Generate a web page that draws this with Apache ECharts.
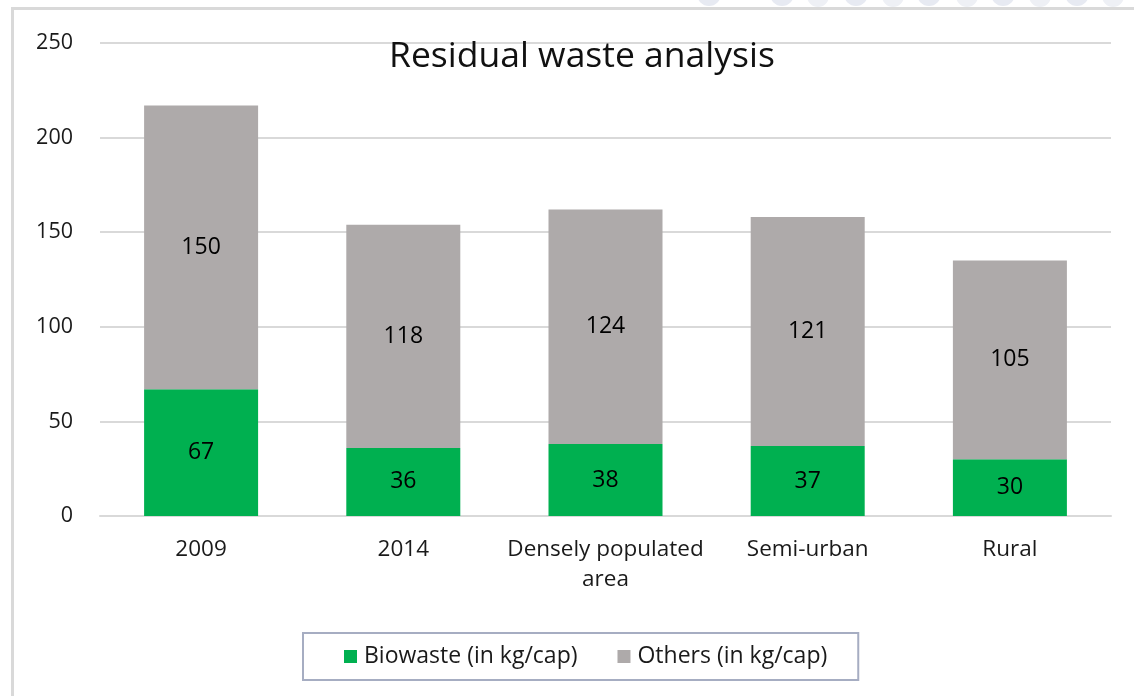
<!DOCTYPE html>
<html>
<head>
<meta charset="utf-8">
<script src="https://cdn.jsdelivr.net/npm/echarts@6/dist/echarts.min.js"></script>
<style>html,body{margin:0;padding:0;background:#fff}#c{width:1134px;height:696px}</style>
</head>
<body>
<div id="c"></div>
<script>
const categories = ['2009', '2014', 'Densely populated\narea', 'Semi-urban', 'Rural'];
const biowaste = [67, 36, 38, 37, 30];
const others = [150, 118, 124, 121, 105];
const yTicks = { min: 0, max: 250, interval: 50 };
const seriesNames = ['Biowaste (in kg/cap)', 'Others (in kg/cap)'];

const font = 'Open Sans';
const chart = echarts.init(document.getElementById('c'));

const circles = [];
[709, 782, 856, 929, 1003, 1077].forEach(x => circles.push({type:'circle', shape:{cx:x, cy:-6, r:12}, style:{fill:'#e7eaf2'}, z:-1}));
[818, 893, 967, 1040, 1113].forEach(x => circles.push({type:'circle', shape:{cx:x, cy:-4, r:11}, style:{fill:'#eef0f5'}, z:-2}));

chart.setOption({
  animation: false,
  backgroundColor: '#fff',
  graphic: circles.concat([
    {type:'rect', shape:{x:12.5, y:8.5, width:1200, height:800}, style:{fill:null, stroke:'#d9d9d9', lineWidth:3}, z:0}
  ]),
  title: {
    text: 'Residual waste analysis',
    left: 384, top: 34,
    textStyle: { fontFamily: font, fontSize: 35.5, fontWeight: 'normal', color: '#111' }
  },
  grid: { left: 100, right: 23, top: 43, bottom: 180 },
  legend: {
    left: 303, top: 633,
    padding: [12, 31, 12, 41],
    borderColor: '#a6adc2', borderWidth: 2,
    itemWidth: 13, itemHeight: 13, itemGap: 40,
    icon: 'rect',
    textStyle: { fontFamily: font, fontSize: 23, color: '#1a1a1a', padding: [0, 0, 0, 2] },
    data: seriesNames
  },
  xAxis: {
    type: 'category', data: categories,
    axisLine: { lineStyle: { color: '#d9d9d9', width: 2 } },
    axisTick: { show: false },
    axisLabel: { interval: 0, fontFamily: font, fontSize: 22.5, color: '#1a1a1a', margin: 19, lineHeight: 30 }
  },
  yAxis: {
    type: 'value', min: yTicks.min, max: yTicks.max, interval: yTicks.interval,
    axisLine: { show: false }, axisTick: { show: false },
    splitLine: { lineStyle: { color: '#d9d9d9', width: 2 } },
    axisLabel: { fontFamily: font, fontSize: 21.5, color: '#1a1a1a', margin: 27 }
  },
  series: [
    {
      name: seriesNames[0], type: 'bar', stack: 'a', data: biowaste, barWidth: 114,
      itemStyle: { color: '#00b050' },
      label: { show: true, position: 'inside', fontFamily: font, fontSize: 23, color: '#000' }
    },
    {
      name: seriesNames[1], type: 'bar', stack: 'a', data: others, barWidth: 114,
      itemStyle: { color: '#aeaaaa' },
      label: { show: true, position: 'inside', fontFamily: font, fontSize: 23, color: '#000' }
    }
  ]
});
</script>
</body>
</html>
